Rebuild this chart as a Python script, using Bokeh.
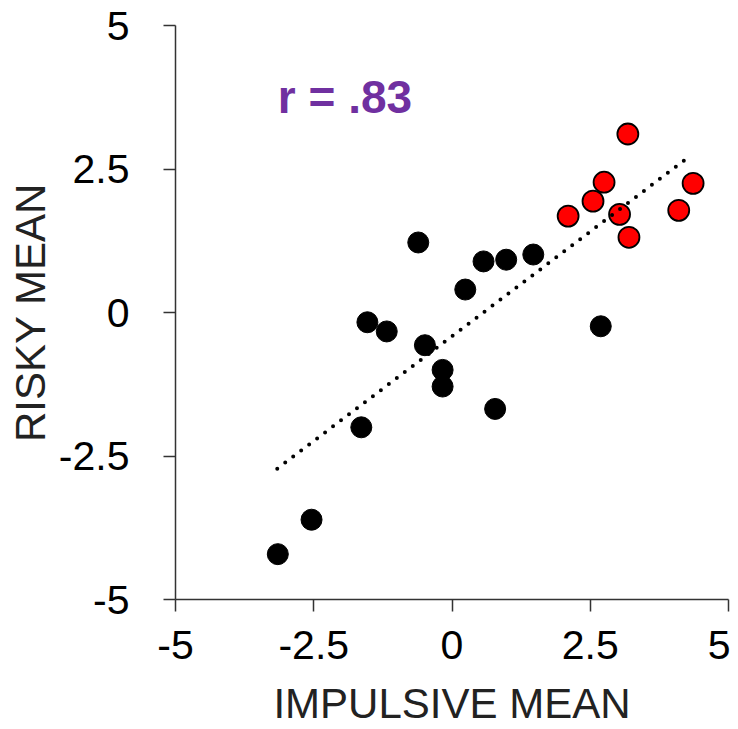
from bokeh.plotting import figure
from bokeh.models import Range1d, FixedTicker, Label
from bokeh.embed import file_html
from bokeh.resources import INLINE

# Data
black_x = [-3.15, -2.54, -1.64, -1.53, -1.18, -0.61, -0.49, -0.17, -0.17, 0.24, 0.57, 0.98, 1.47, 0.78, 2.69]
black_y = [-4.21, -3.61, -2.00, -0.17, -0.33, 1.22, -0.57, -1.00, -1.29, 0.40, 0.89, 0.92, 1.01, -1.68, -0.24]
red_x = [2.10, 2.55, 2.75, 3.18, 3.03, 3.20, 4.10, 4.36]
red_y = [1.68, 1.94, 2.27, 3.11, 1.71, 1.31, 1.78, 2.25]
trend_x = [-3.16, 4.24]
trend_y = [-2.72, 2.68]
ticks = [-5, -2.5, 0, 2.5, 5]
tick_labels = {-5: "-5", -2.5: "-2.5", 0: "0", 2.5: "2.5", 5: "5"}
r_text = "r = .83"

FONT = "Liberation Sans"

p = figure(width=730, height=729, output_backend="svg", toolbar_location=None,
           x_range=Range1d(-5, 5), y_range=Range1d(-5, 5),
           min_border_left=175, min_border_right=2, min_border_top=25, min_border_bottom=100)
p.outline_line_color = None
p.xgrid.visible = False
p.ygrid.visible = False
p.background_fill_color = "white"
p.border_fill_color = "white"

for ax in (p.xaxis[0], p.yaxis[0]):
    ax.ticker = FixedTicker(ticks=ticks)
    ax.major_label_overrides = tick_labels
    ax.minor_tick_line_color = None
    ax.major_tick_out = 12
    ax.major_tick_in = 0
    ax.axis_line_color = "#333333"
    ax.axis_line_width = 1.5
    ax.major_tick_line_color = "#333333"
    ax.major_tick_line_width = 1.5
    ax.major_label_text_font = FONT
    ax.major_label_text_font_size = "41px"
    ax.major_label_text_color = "black"
    ax.axis_label_text_font = FONT
    ax.axis_label_text_font_size = "42px"
    ax.axis_label_text_font_style = "normal"
    ax.axis_label_text_color = "#222222"

p.xaxis.axis_label = "IMPULSIVE MEAN"
p.yaxis.axis_label = "RISKY MEAN"
p.xaxis.major_label_standoff = 19
p.yaxis.major_label_standoff = 34
p.xaxis.axis_label_standoff = 18
p.yaxis.axis_label_standoff = 2

p.scatter(black_x, black_y, size=21, marker="circle", fill_color="black", line_color="black")
p.scatter(red_x, red_y, size=21, marker="circle", fill_color="#FF0000", line_color="black", line_width=1.8)
p.line(trend_x, trend_y, line_color="black", line_width=4, line_dash="0 10", line_cap="round")

p.add_layout(Label(x=-3.15, y=3.30, text=r_text, text_font=FONT, text_font_size="46px",
                   text_font_style="bold", text_color="#7030A0"))

open("out.html", "w").write(file_html(p, INLINE))
